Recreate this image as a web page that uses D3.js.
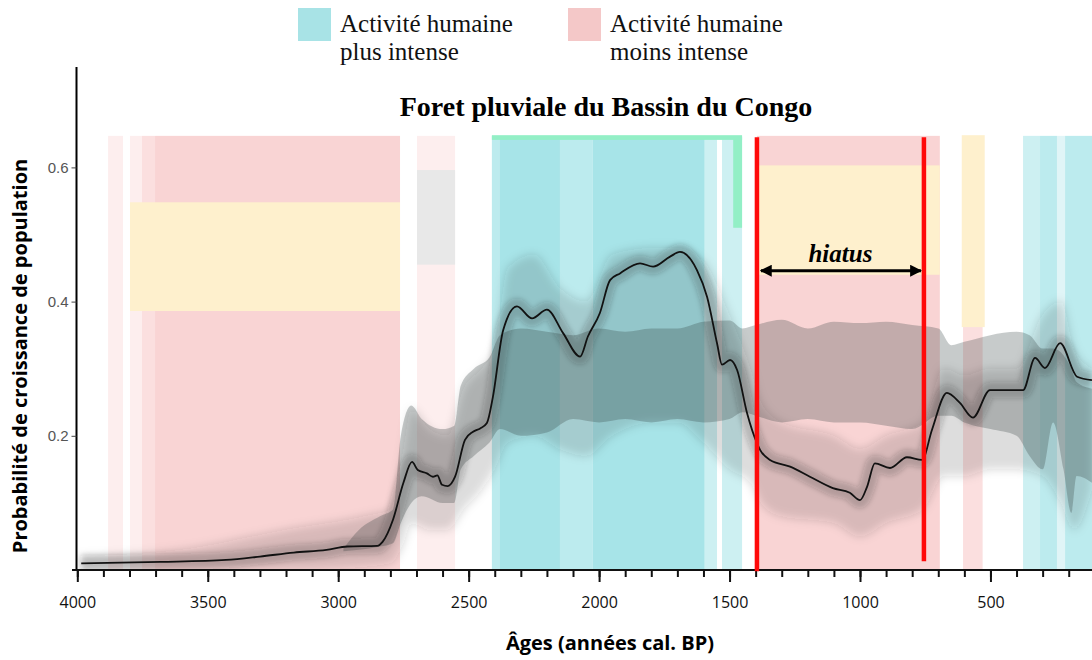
<!DOCTYPE html>
<html>
<head>
<meta charset="utf-8">
<script src="https://cdn.jsdelivr.net/npm/d3@7"></script>
<style>
  body { margin: 0; background: #fff; }
  svg { display: block; }
</style>
</head>
<body>
<script>
// ---- data ----
// median of the population growth probability (age BP, value)
var medianAge = [3985, 3680, 3430, 3300, 3170, 3045, 2965, 2850, 2830, 2790, 2750, 2717, 2695, 2660, 2637, 2620, 2602, 2580, 2552, 2514, 2483, 2456, 2430, 2407, 2368, 2315, 2257, 2200, 2138, 2073, 2043, 1997, 1958, 1920, 1843, 1793, 1728, 1690, 1625, 1586, 1548, 1529, 1498, 1471, 1433, 1395, 1383, 1345, 1268, 1192, 1104, 1039, 1000, 973, 943, 885, 820, 762, 724, 667, 617, 567, 502, 375, 329, 291, 233, 168, 111];
var medianVal = [0.010, 0.012, 0.015, 0.020, 0.026, 0.030, 0.035, 0.036, 0.042, 0.075, 0.130, 0.161, 0.149, 0.144, 0.139, 0.141, 0.127, 0.125, 0.139, 0.194, 0.206, 0.211, 0.219, 0.258, 0.357, 0.393, 0.375, 0.388, 0.353, 0.318, 0.348, 0.383, 0.432, 0.442, 0.457, 0.452, 0.467, 0.474, 0.447, 0.407, 0.338, 0.306, 0.313, 0.298, 0.234, 0.189, 0.179, 0.164, 0.154, 0.139, 0.122, 0.115, 0.104, 0.124, 0.159, 0.152, 0.168, 0.164, 0.209, 0.264, 0.249, 0.227, 0.268, 0.268, 0.316, 0.301, 0.338, 0.288, 0.283];

// null model envelope
var envAge  = [2980, 2920, 2840, 2790, 2760, 2720, 2680, 2600, 2555, 2530, 2480, 2420, 2380, 2300, 2200, 2100, 2000, 1900, 1800, 1700, 1600, 1500, 1450, 1400, 1300, 1200, 1100, 1000, 900, 800, 700, 650, 600, 500, 400, 350, 300, 260, 220, 190, 170, 111];
var envHigh = [0.032, 0.060, 0.080, 0.090, 0.200, 0.245, 0.225, 0.210, 0.215, 0.275, 0.300, 0.317, 0.350, 0.360, 0.355, 0.350, 0.360, 0.355, 0.360, 0.360, 0.370, 0.372, 0.360, 0.365, 0.373, 0.360, 0.370, 0.368, 0.370, 0.365, 0.360, 0.335, 0.340, 0.350, 0.355, 0.350, 0.330, 0.330, 0.320, 0.300, 0.280, 0.270];
var envLow  = [0.028, 0.030, 0.035, 0.040, 0.070, 0.100, 0.110, 0.100, 0.100, 0.150, 0.170, 0.190, 0.210, 0.200, 0.205, 0.225, 0.220, 0.225, 0.220, 0.225, 0.220, 0.225, 0.235, 0.230, 0.220, 0.225, 0.220, 0.220, 0.215, 0.210, 0.230, 0.230, 0.220, 0.210, 0.200, 0.170, 0.150, 0.220, 0.150, 0.085, 0.140, 0.130];

// spread of the simulated curves
var cloudAge  = [3990, 3600, 3200, 2900, 2800, 2750, 2720, 2650, 2580, 2520, 2450, 2400, 2350, 2250, 2150, 2050, 1950, 1800, 1700, 1600, 1500, 1420, 1380, 1300, 1100, 1000, 900, 760, 680, 600, 500, 400, 300, 230, 180, 111];
var cloudHigh = [0.020, 0.030, 0.060, 0.080, 0.090, 0.180, 0.240, 0.210, 0.200, 0.270, 0.300, 0.330, 0.450, 0.470, 0.420, 0.400, 0.470, 0.480, 0.480, 0.460, 0.380, 0.300, 0.250, 0.220, 0.200, 0.180, 0.200, 0.220, 0.300, 0.290, 0.300, 0.300, 0.380, 0.400, 0.330, 0.300];
var cloudLow  = [0.000, 0.000, 0.000, 0.005, 0.010, 0.040, 0.070, 0.060, 0.060, 0.090, 0.120, 0.150, 0.190, 0.200, 0.180, 0.170, 0.200, 0.220, 0.220, 0.190, 0.150, 0.130, 0.100, 0.080, 0.070, 0.050, 0.070, 0.090, 0.140, 0.140, 0.150, 0.150, 0.140, 0.100, 0.060, 0.120];

// background bands [from, to, shade]
var bandsPlus  = [[2411, 2380, 1], [2380, 2150, 0], [2150, 2024, 1], [2024, 1595, 0], [1595, 1548, 2], [1529, 1452, 2], [375, 310, 2], [310, 245, 1], [245, 214, 3], [214, 100, 1]];
var bandsMoins = [[3882, 3825, 2], [3798, 3752, 2], [3752, 3702, 1], [3702, 2763, 0], [2698, 2552, 2], [1395, 694, 0], [605, 530, 1]];
// boxes [from, to, low, high]
var yellowBoxes = [[3798, 2763, 0.386, 0.548], [1390, 694, 0.440, 0.603], [610, 522, 0.362, 0.648]];
var greyBoxes   = [[2698, 2552, 0.455, 0.596]];
var greenBoxes  = [[1486, 1452, 0.510, 0.645], [2411, 1452, 0.641, 0.648]];
var bandTop = 0.647;

var hiatusAges = [1395, 755];
var xMajor = [4000, 3500, 3000, 2500, 2000, 1500, 1000, 500];
var xMinor = d3.range(4000, 0, -100);
var yTicks = [0.2, 0.4, 0.6];

var plusColors  = ["#a7e4e8", "#bcebee", "#cdf0f2", "#e0f5f7"];
var moinsColors = ["#f9d4d4", "#fbdfdf", "#fdeeee"];

// ---- chart ----
var width = 1092;
var height = 660;
var svg = d3.select("body").append("svg")
    .attr("width", width)
    .attr("height", height);

var x = d3.scaleLinear().domain([4000, 0]).range([77.3, 1120.9]);
var y = d3.scaleLinear().domain([0, 0.6]).range([570, 167.4]);

var defs = svg.append("defs");
defs.append("clipPath").attr("id", "plotclip")
  .append("rect").attr("x", 77).attr("y", 60).attr("width", width - 77).attr("height", 510);
defs.append("filter").attr("id", "soft")
  .attr("x", "-5%").attr("y", "-20%").attr("width", "110%").attr("height", "140%")
  .append("feGaussianBlur").attr("stdDeviation", 2.5);
defs.append("filter").attr("id", "softer")
  .attr("x", "-5%").attr("y", "-20%").attr("width", "110%").attr("height", "140%")
  .append("feGaussianBlur").attr("stdDeviation", 5);
defs.append("marker").attr("id", "head")
  .attr("viewBox", "0 0 10 10").attr("refX", 9).attr("refY", 5)
  .attr("markerWidth", 4).attr("markerHeight", 4).attr("orient", "auto-start-reverse")
  .append("path").attr("d", "M0,0 L10,5 L0,10 Z").attr("fill", "#000");

var plot = svg.append("g").attr("clip-path", "url(#plotclip)");

// bands
plot.selectAll(".moins").data(bandsMoins).enter().append("rect")
    .attr("x", function (d) { return x(d[0]); })
    .attr("width", function (d) { return x(d[1]) - x(d[0]); })
    .attr("y", y(bandTop))
    .attr("height", y(0) - y(bandTop))
    .attr("fill", function (d) { return moinsColors[d[2]]; });
plot.selectAll(".plus").data(bandsPlus).enter().append("rect")
    .attr("x", function (d) { return x(d[0]); })
    .attr("width", function (d) { return x(d[1]) - x(d[0]); })
    .attr("y", y(bandTop))
    .attr("height", y(0) - y(bandTop))
    .attr("fill", function (d) { return plusColors[d[2]]; });

function boxes(data, color) {
  plot.append("g").selectAll("rect").data(data).enter().append("rect")
      .attr("x", function (d) { return x(d[0]); })
      .attr("width", function (d) { return x(d[1]) - x(d[0]); })
      .attr("y", function (d) { return y(d[3]); })
      .attr("height", function (d) { return y(d[2]) - y(d[3]); })
      .attr("fill", color);
}
boxes(yellowBoxes, "#fef0cd");
boxes(greyBoxes, "#e8e8e8");
boxes(greenBoxes, "#93efc6");

// envelope
var envData = envAge.map(function (a, i) { return { age: a, hi: envHigh[i], lo: envLow[i] }; });
plot.append("path").datum(envData)
    .attr("d", d3.area().curve(d3.curveMonotoneX)
        .x(function (d) { return x(d.age); })
        .y0(function (d) { return y(d.lo); })
        .y1(function (d) { return y(d.hi); }))
    .attr("fill", "#2f3f40")
    .attr("fill-opacity", 0.27);

// spaghetti cloud
var cloudData = cloudAge.map(function (a, i) { return { age: a, hi: cloudHigh[i], lo: cloudLow[i] }; });
plot.append("path").datum(cloudData)
    .attr("d", d3.area().curve(d3.curveMonotoneX)
        .x(function (d) { return x(d.age); })
        .y0(function (d) { return y(d.lo); })
        .y1(function (d) { return y(d.hi); }))
    .attr("fill", "#333")
    .attr("fill-opacity", 0.16)
    .attr("filter", "url(#softer)");

var medData = medianAge.map(function (a, i) { return { age: a, v: medianVal[i] }; });
var medLine = d3.line().curve(d3.curveMonotoneX)
    .x(function (d) { return x(d.age); })
    .y(function (d) { return y(d.v); });

// dense core of the curves around the median
plot.append("path").datum(medData)
    .attr("d", medLine)
    .attr("fill", "none")
    .attr("stroke", "#222")
    .attr("stroke-opacity", 0.2)
    .attr("stroke-width", 16)
    .attr("filter", "url(#soft)");

plot.append("path").datum(medData)
    .attr("d", medLine)
    .attr("fill", "none")
    .attr("stroke", "#111")
    .attr("stroke-width", 1.8);

// axes
var yAxis = d3.axisLeft(y).tickValues(yTicks).tickSize(5).tickFormat(d3.format(".1f"));
var yAxisGroup = svg.append("g")
    .attr("transform", "translate(" + 76.5 + ",0)")
    .call(yAxis);
yAxisGroup.select(".domain").attr("d", "M0,67V570").attr("stroke", "#000").attr("stroke-width", 2);
yAxisGroup.selectAll(".tick line").attr("stroke", "#444");
yAxisGroup.selectAll(".tick text")
    .attr("fill", "#555")
    .style("font-family", "'Liberation Sans', Arial, sans-serif")
    .style("font-size", "15px");

var xMinorAxis = d3.axisBottom(x).tickValues(xMinor).tickSize(7).tickFormat("");
var xMinorGroup = svg.append("g")
    .attr("transform", "translate(0," + 570 + ")")
    .call(xMinorAxis);
xMinorGroup.select(".domain").attr("d", "M72,0H1092").attr("stroke", "#111").attr("stroke-width", 2);
xMinorGroup.selectAll(".tick line").attr("stroke", "#111").attr("stroke-width", 2);

var xAxis = d3.axisBottom(x).tickValues(xMajor).tickSize(12).tickPadding(15).tickFormat(d3.format("d"));
var xAxisGroup = svg.append("g")
    .attr("transform", "translate(0," + 570 + ")")
    .call(xAxis);
xAxisGroup.select(".domain").remove();
xAxisGroup.selectAll(".tick line").attr("stroke", "#111").attr("stroke-width", 2);
xAxisGroup.selectAll(".tick text")
    .attr("fill", "#111")
    .style("font-family", "'Open Sans', sans-serif")
    .style("font-size", "16px");

// hiatus lines and arrow
svg.append("g").selectAll("line").data(hiatusAges).enter().append("line")
    .attr("x1", function (d) { return x(d); })
    .attr("x2", function (d) { return x(d); })
    .attr("y1", y(0.645))
    .attr("y2", function (d, i) { return i === 0 ? y(-0.002) : y(0.013); })
    .attr("stroke", "#ff0a0a")
    .attr("stroke-width", 4.5);

svg.append("line")
    .attr("x1", x(hiatusAges[0]) + 4)
    .attr("x2", x(hiatusAges[1]) - 3)
    .attr("y1", y(0.446))
    .attr("y2", y(0.446))
    .attr("stroke", "#000")
    .attr("stroke-width", 3)
    .attr("marker-start", "url(#head)")
    .attr("marker-end", "url(#head)");

svg.append("text")
    .attr("x", (x(hiatusAges[0]) + x(hiatusAges[1])) / 2)
    .attr("y", 262)
    .attr("text-anchor", "middle")
    .style("font-family", "'Liberation Serif', 'Times New Roman', serif")
    .style("font-weight", "bold")
    .style("font-style", "italic")
    .style("font-size", "25px")
    .text("hiatus");

// title
svg.append("text")
    .attr("x", 606)
    .attr("y", 116)
    .attr("text-anchor", "middle")
    .style("font-family", "'Liberation Serif', 'Times New Roman', serif")
    .style("font-weight", "bold")
    .style("font-size", "28px")
    .text("Foret pluviale du Bassin du Congo");

// axis titles
svg.append("text")
    .attr("x", 610)
    .attr("y", 650)
    .attr("text-anchor", "middle")
    .style("font-family", "'Open Sans', sans-serif")
    .style("font-weight", "bold")
    .style("font-size", "20px")
    .text("Âges (années cal. BP)");

svg.append("text")
    .attr("transform", "translate(27,356) rotate(-90)")
    .attr("text-anchor", "middle")
    .style("font-family", "'Open Sans', sans-serif")
    .style("font-weight", "bold")
    .style("font-size", "20px")
    .text("Probabilité de croissance de population");

// legend
var legendItems = [
  { color: "#a8e3e6", lines: ["Activité humaine", "plus intense"], x: 298 },
  { color: "#f4c8c8", lines: ["Activité humaine", "moins intense"], x: 568 }
];
var legend = svg.append("g").selectAll("g").data(legendItems).enter().append("g")
    .attr("transform", function (d) { return "translate(" + d.x + ",0)"; });
legend.append("rect")
    .attr("x", 0).attr("y", 8).attr("width", 33).attr("height", 33)
    .attr("fill", function (d) { return d.color; });
legend.append("text")
    .attr("x", 42)
    .attr("y", 32)
    .style("font-family", "'Liberation Serif', 'Times New Roman', serif")
    .style("font-size", "25px")
    .style("fill", "#111")
    .selectAll("tspan").data(function (d) { return d.lines; }).enter().append("tspan")
    .attr("x", 42)
    .attr("dy", function (d, i) { return i === 0 ? 0 : 28; })
    .text(function (d) { return d; });
</script>
</body>
</html>
